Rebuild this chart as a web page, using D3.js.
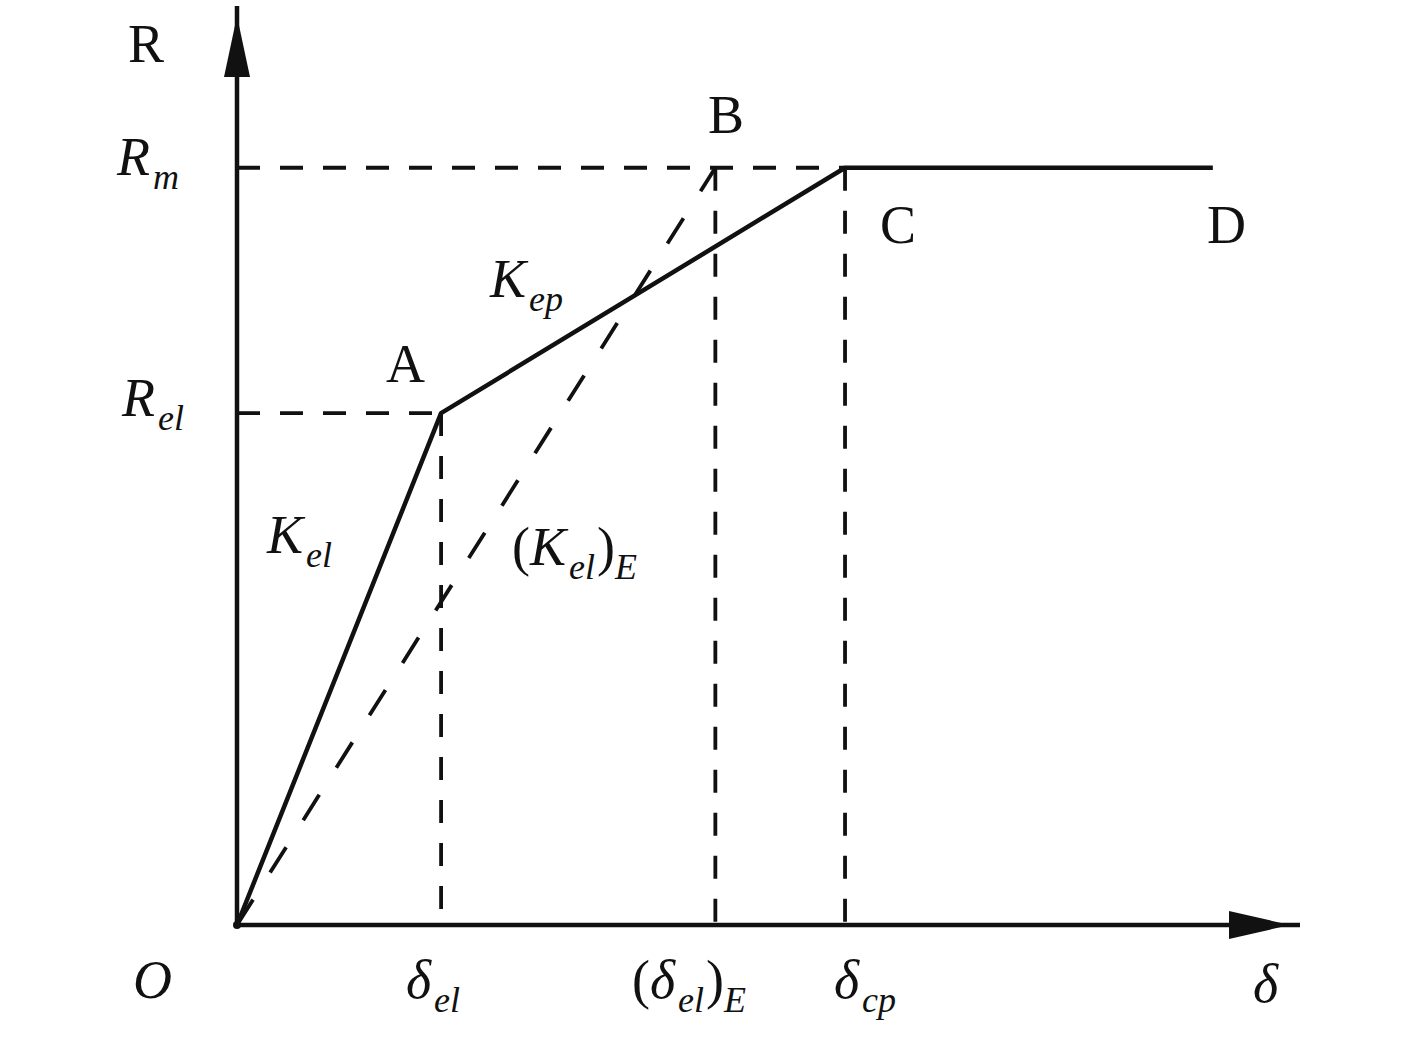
<!DOCTYPE html>
<html lang="en">
<head>
    <meta charset="UTF-8">
    <title>R - delta diagram</title>
    <style>
        body { margin: 0; background: #fff; }
        text { font-family: "Liberation Serif", "Times New Roman", serif; fill: #111; }
    </style>
</head>
<body>
    <div id="container"></div>
    <script src="https://d3js.org/d3.v7.min.js"></script>
    <script>
        // Key displacements (x axis units) and resistances (y axis units)
        var deltaKeys = ["O", "el", "elE", "cp", "end"];
        var deltaValues = [0, 1.92, 4.50, 5.72, 9.18];
        var resistKeys = ["el", "m"];
        var resistValues = [5.57, 8.24];

        // Curve points: O -> A -> C -> D
        var curveNames = ["O", "A", "C", "D"];
        var curveX = [0, 1.92, 5.72, 9.18];
        var curveY = [0, 5.57, 8.24, 8.24];

        var width = 1417, height = 1037;
        var ink = "#111";

        var svg = d3.select("#container").append("svg")
            .attr("width", width)
            .attr("height", height);

        var x = d3.scaleLinear().domain([0, 10]).range([237, 1300]);
        var y = d3.scaleLinear().domain([0, 10]).range([925, 6]);

        var dEl = deltaValues[1], dElE = deltaValues[2], dCp = deltaValues[3];
        var rEl = resistValues[0], rM = resistValues[1];

        // dashed guides
        var guides = [
            [[0, rM], [dCp, rM]],
            [[0, rEl], [dEl, rEl]],
            [[dEl, rEl], [dEl, 0]],
            [[dElE, rM], [dElE, 0]],
            [[dCp, rM], [dCp, 0]]
        ];
        var line = d3.line().x(function(d) { return x(d[0]); }).y(function(d) { return y(d[1]); });

        svg.append("g").selectAll("path")
            .data(guides)
            .enter().append("path")
            .attr("d", line)
            .attr("fill", "none")
            .attr("stroke", ink)
            .attr("stroke-width", 3.8)
            .attr("stroke-dasharray", "23,20");

        // secant stiffness line O -> B (dashed)
        svg.append("path")
            .attr("d", line([[0, 0], [dElE, rM]]))
            .attr("fill", "none")
            .attr("stroke", ink)
            .attr("stroke-width", 3.8)
            .attr("stroke-dasharray", "30,32");

        // axes
        svg.append("line")
            .attr("x1", x(0)).attr("y1", y(0))
            .attr("x2", x(10)).attr("y2", y(0))
            .attr("stroke", ink).attr("stroke-width", 4.5);
        svg.append("line")
            .attr("x1", x(0)).attr("y1", y(0))
            .attr("x2", x(0)).attr("y2", y(10))
            .attr("stroke", ink).attr("stroke-width", 4.5);

        // arrow heads
        svg.append("path")
            .attr("d", "M" + x(0) + "," + (y(10) + 10) + " L" + (x(0) + 13) + "," + (y(10) + 71) +
                " L" + (x(0) - 13) + "," + (y(10) + 71) + "Z")
            .attr("fill", ink);
        svg.append("path")
            .attr("d", "M" + (x(10) - 10) + "," + y(0) + " L" + (x(10) - 71) + "," + (y(0) - 14) +
                " L" + (x(10) - 71) + "," + (y(0) + 14) + "Z")
            .attr("fill", ink);

        // main curve
        var curve = curveX.map(function(v, i) { return [v, curveY[i]]; });
        svg.append("path")
            .attr("d", line(curve))
            .attr("fill", "none")
            .attr("stroke", ink)
            .attr("stroke-width", 4.5)
            .attr("stroke-linejoin", "round");

        svg.append("circle")
            .attr("cx", x(0)).attr("cy", y(0)).attr("r", 4)
            .attr("fill", ink);

        // labels: main text, optional subscript, optional wrapping
        function label(px, py, main, sub, opts) {
            opts = opts || {};
            var t = svg.append("text")
                .attr("x", px).attr("y", py)
                .attr("font-size", 54);
            if (opts.paren) t.append("tspan").attr("font-style", "normal").text("(");
            t.append("tspan")
                .attr("font-style", opts.italic ? "italic" : "normal")
                .text(main);
            if (sub) {
                t.append("tspan")
                    .attr("font-style", "italic")
                    .attr("font-size", 36)
                    .attr("dy", 14)
                    .attr("dx", opts.subDx || 0)
                    .text(sub);
            }
            if (opts.paren) {
                t.append("tspan").attr("font-style", "normal").attr("dy", -14).attr("dx", 2).text(")");
                t.append("tspan")
                    .attr("font-style", "italic")
                    .attr("font-size", 36)
                    .attr("dy", 14)
                    .text(opts.outerSub);
            }
            return t;
        }

        label(128, 62, "R");
        label(117, 175, "R", "m", { italic: true, subDx: 3 });
        label(122, 416, "R", "el", { italic: true, subDx: 3 });
        label(386, 382, "A");
        label(708, 133, "B");
        label(880, 243, "C");
        label(1207, 243, "D");
        label(490, 297, "K", "ep", { italic: true, subDx: 3 });
        label(267, 553, "K", "el", { italic: true, subDx: 3 });
        label(512, 565, "K", "el", { italic: true, subDx: 3, paren: true, outerSub: "E" });
        label(133, 998, "O", null, { italic: true });
        label(406, 998, "\u03b4", "el", { italic: true, subDx: 3 });
        label(632, 998, "\u03b4", "el", { italic: true, subDx: 3, paren: true, outerSub: "E" });
        label(834, 998, "\u03b4", "cp", { italic: true, subDx: 3 });
        label(1253, 1002, "\u03b4", null, { italic: true });
    </script>
</body>
</html>
